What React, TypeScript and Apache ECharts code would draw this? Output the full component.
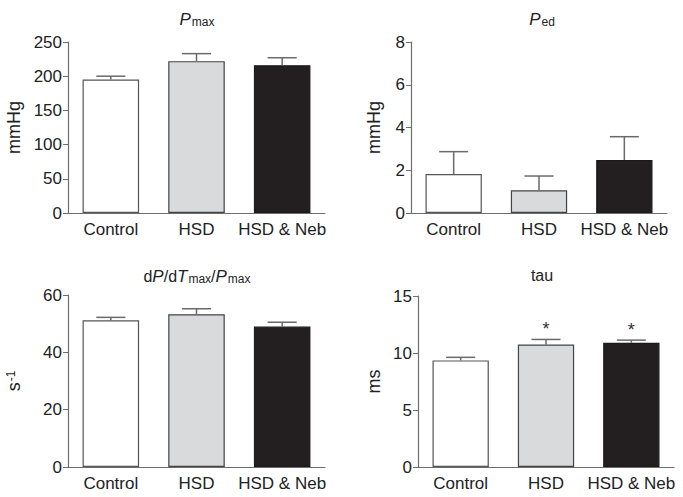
import React, { useEffect, useRef } from "react";
import * as echarts from "echarts";

const categories = ["Control", "HSD", "HSD & Neb"];
const barColors = ["#ffffff", "#d9dadc", "#231f20"];
const barBorders = ["#555555", "#444444", "#1a1a1a"];

const pmaxMean = [195, 222, 216];
const pmaxErr = [5, 11, 11];
const pedMean = [1.82, 1.06, 2.48];
const pedErr = [1.05, 0.67, 1.09];
const dpMean = [51.2, 53.3, 49.0];
const dpErr = [1.0, 1.9, 1.5];
const tauMean = [9.35, 10.75, 10.89];
const tauErr = [0.27, 0.44, 0.24];
const tauSig = ["", "*", "*"];
const noSig = ["", "", ""];

const panels = [
  { mean: pmaxMean, err: pmaxErr, sig: noSig, max: 250, interval: 50, name: "mmHg", nameGap: 45, grid: { left: 68, top: 42, width: 257, height: 171 } },
  { mean: pedMean, err: pedErr, sig: noSig, max: 8, interval: 2, name: "mmHg", nameGap: 28, grid: { left: 411, top: 42, width: 256, height: 171 } },
  { mean: dpMean, err: dpErr, sig: noSig, max: 60, interval: 20, name: "{s|s}{sup|-1}", nameGap: 45, grid: { left: 68, top: 295, width: 257, height: 172 } },
  { mean: tauMean, err: tauErr, sig: tauSig, max: 15, interval: 5, name: "ms", nameGap: 35, grid: { left: 418, top: 296, width: 256, height: 171 } },
];

const FONT = "'Liberation Sans', Arial, Helvetica, sans-serif";
const TXT = "#222";
const AXIS = "#6e6e6e";

export default function App() {
  const ref = useRef<HTMLDivElement>(null);
  useEffect(() => {
    if (!ref.current) return;
    const chart = echarts.init(ref.current, undefined, { renderer: "svg" });
    const grids: any[] = [];
    const xAxes: any[] = [];
    const yAxes: any[] = [];
    const series: any[] = [];
    panels.forEach((p, i) => {
      grids.push({ ...p.grid, containLabel: false });
      xAxes.push({
        type: "category",
        gridIndex: i,
        data: categories,
        axisLine: { lineStyle: { color: AXIS, width: 1.2 } },
        axisTick: { show: false },
        axisLabel: { color: TXT, fontSize: 17, fontFamily: FONT, margin: 8, interval: 0 },
      });
      yAxes.push({
        type: "value",
        gridIndex: i,
        min: 0,
        max: p.max,
        interval: p.interval,
        splitLine: { show: false },
        axisLine: { show: true, lineStyle: { color: AXIS, width: 1.2 } },
        axisTick: { show: true, length: 5, lineStyle: { color: AXIS } },
        axisLabel: { color: TXT, fontSize: 17, fontFamily: FONT, margin: 6 },
        name: p.name,
        nameLocation: "middle",
        nameGap: p.nameGap,
        nameRotate: 90,
        nameTextStyle: {
          color: TXT,
          fontSize: 18,
          fontFamily: FONT,
          rich: {
            s: { fontSize: 18, fontFamily: FONT, color: TXT },
            sup: { fontSize: 12, fontFamily: FONT, color: TXT, verticalAlign: "top", padding: [0, 0, 6, 1] },
          },
        },
      });
      series.push({
        type: "bar",
        xAxisIndex: i,
        yAxisIndex: i,
        barWidth: "66%",
        data: p.mean.map((v, k) => ({
          value: v,
          itemStyle: { color: barColors[k], borderColor: barBorders[k], borderWidth: 1.2 },
        })),
      });
      series.push({
        type: "custom",
        xAxisIndex: i,
        yAxisIndex: i,
        z: 3,
        data: p.mean.map((v, k) => [k, v, p.err[k]]),
        renderItem: (params: any, api: any) => {
          const x = api.value(0);
          const m = api.value(1);
          const e = api.value(2);
          const idx = params.dataIndex;
          const mark = p.sig[idx];
          const p0 = api.coord([x, m]);
          const p1 = api.coord([x, m + e]);
          const hw = api.size([1, 0])[0] * 0.17;
          const style = { stroke: "#6a6a6a", lineWidth: 1.5 };
          const children: any[] = [
            { type: "line", shape: { x1: p0[0], y1: p0[1], x2: p1[0], y2: p1[1] }, style },
            { type: "line", shape: { x1: p1[0] - hw, y1: p1[1], x2: p1[0] + hw, y2: p1[1] }, style },
          ];
          if (mark) {
            children.push({
              type: "text",
              x: p1[0],
              y: p1[1] - 1,
              style: { text: mark, fill: "#333", fontSize: 18, fontFamily: FONT, textAlign: "center", textVerticalAlign: "bottom" },
            });
          }
          return { type: "group", children };
        },
      });
    });

    const titleRich = {
      i: { fontSize: 17, fontStyle: "italic", fontFamily: FONT, fill: TXT, color: TXT },
      n: { fontSize: 16, fontFamily: FONT, fill: TXT, color: TXT },
      sub: { fontSize: 12, fontFamily: FONT, fill: TXT, color: TXT, verticalAlign: "bottom", padding: [6, 0, 0, 1] },
    };
    const mkTitle = (x: number, y: number, text: string) => ({
      type: "text",
      x,
      y,
      style: { text, rich: titleRich, fontFamily: FONT, fontSize: 16, fill: TXT, align: "center", verticalAlign: "middle" },
    });

    chart.setOption({
      animation: false,
      backgroundColor: "#ffffff",
      grid: grids,
      xAxis: xAxes,
      yAxis: yAxes,
      series,
      graphic: [
        mkTitle(197, 19, "{i|P}{sub|max}"),
        mkTitle(542, 19, "{i|P}{sub|ed}"),
        mkTitle(197, 276, "{n|d}{i|P}{n|/d}{i|T}{sub|max}{n|/}{i|P}{sub|max}"),
        mkTitle(542, 275, "{n|tau}"),
      ],
    });
    return () => chart.dispose();
  }, []);
  return <div ref={ref} style={{ position: "fixed", left: 0, top: 0, width: 683, height: 497 }} />;
}
